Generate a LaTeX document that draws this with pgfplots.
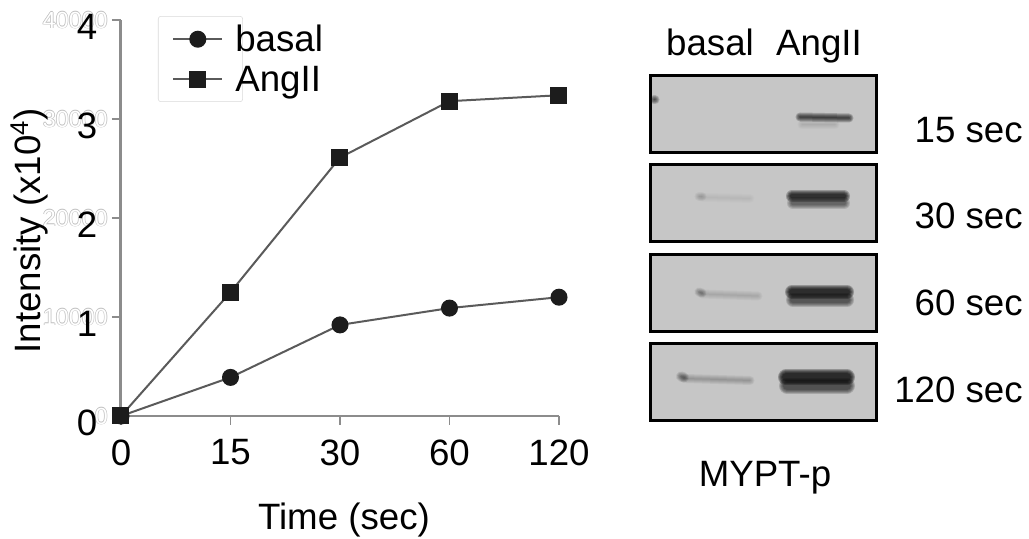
\documentclass[border=0pt]{standalone}
\usepackage{fontspec}
\setmainfont{Liberation Sans}
\usepackage{pgfplots}
\pgfplotsset{compat=1.18}

\newcommand{\px}{0.75pt}
\newcommand{\bigfont}{\fontsize{27.5}{30}\selectfont}
\definecolor{axisgray}{HTML}{8C8C8C}
\definecolor{linegray}{HTML}{5A5A5A}
\definecolor{markblack}{HTML}{1C1C1C}
\definecolor{blotgray}{HTML}{C6C6C6}

% outlined digits left over behind the y tick labels
\newcommand{\ghost}[1]{%
  \rlap{\raisebox{.5pt}{\textcolor{black!25}{#1}}}%
  \rlap{\raisebox{-.5pt}{\textcolor{black!25}{#1}}}%
  \rlap{\hspace{.5pt}\textcolor{black!25}{#1}}%
  \rlap{\hspace{-.5pt}\textcolor{black!25}{#1}}%
  \textcolor{white}{#1}}

% one blurred band: core width, darkness, coordinates
\newcommand{\band}[3]{%
  \addplot[black,opacity=.2*#2,line cap=round,line width={(#1+8)*\px}] coordinates {#3};
  \addplot[black,opacity=.2*#2,line cap=round,line width={(#1+6)*\px}] coordinates {#3};
  \addplot[black,opacity=.2*#2,line cap=round,line width={(#1+4)*\px}] coordinates {#3};
  \addplot[black,opacity=.2*#2,line cap=round,line width={(#1+2)*\px}] coordinates {#3};
  \addplot[black,opacity=.2*#2,line cap=round,line width={#1*\px}] coordinates {#3};
}

\pgfplotsset{
  blot/.style={
    anchor=south west, scale only axis,
    width=226*\px, height=77*\px,
    xmin=650, xmax=876, y dir=reverse,
    ticks=none, axis on top,
    axis line style={black,line width=3*\px},
    axis background/.style={fill=blotgray},
  },
}

\begin{document}
\begin{tikzpicture}
\path[use as bounding box] (0,0) rectangle (1029*\px,539*\px);

\foreach \yy/\lab in {20/40000,119/30000,218/20000,317/10000,416/0}
  \node[anchor=east,inner sep=0pt,font=\fontsize{17.5}{20}\selectfont]
    at (108*\px,{(539-\yy)*\px}) {\ghost{\lab}};

\begin{axis}[
  at={(121*\px,123*\px)}, anchor=origin, scale only axis,
  width=438*\px, height=396*\px,
  xmin=0, xmax=4, ymin=0, ymax=4,
  clip=false,
  axis lines=left,
  axis line style={-},
  x axis line style={axisgray,line width=2*\px},
  y axis line style={axisgray,line width=3*\px},
  tick align=outside,
  major tick length=9*\px,
  tick style={axisgray,line width=1.2*\px},
  xtick={0,1,2,3,4},
  xticklabels={0,15,30,60,120},
  ytick={0,1,2,3,4},
  tick label style={font=\bigfont},
  /pgf/number format/assume math mode=true,
  x tick label style={yshift=-10*\px},
  y tick label style={yshift=-7*\px,xshift=-10*\px},
  xlabel={Time (sec)},
  xlabel style={font=\bigfont,at={(axis description cs:0.509,0)},anchor=center,yshift=-104*\px},
  ylabel={Intensity (x10\textsuperscript{4})},
  ylabel style={font=\bigfont,at={(axis description cs:0,0.468)},anchor=center,yshift=92*\px},
  legend style={
    at={(37/438,400/396)}, anchor=north west,
    draw=black!15, rounded corners=2pt, fill=none,
    inner xsep=14*\px, inner ysep=6*\px,
    row sep=7*\px, font=\bigfont,
  },
  legend cell align=left,
  legend image code/.code={
    \draw[mark repeat=2,mark phase=2,#1]
      plot coordinates {(0pt,0pt)(18.4pt,0pt)(36.8pt,0pt)};
  },
]
\addplot[linegray,line width=2*\px,mark=*,mark size=7.5*\px,
  mark options={fill=markblack,draw=markblack,solid}]
  coordinates {(0,0) (1,0.39) (2,0.92) (3,1.09) (4,1.20)};
\addlegendentry{\rlap{\hspace{7pt}basal}\hspace{17pt}}
\addplot[linegray,line width=2*\px,mark=square*,mark size=7.5*\px,
  mark options={fill=markblack,draw=markblack,solid}]
  coordinates {(0,0) (1,1.25) (2,2.61) (3,3.18) (4,3.24)};
\addlegendentry{\rlap{\hspace{7pt}AngII}\hspace{17pt}}
\end{axis}

% blot panels, coordinates in picture pixels
\begin{axis}[blot,at={(650*\px,386*\px)},ymin=76,ymax=153]
\band{1}{1}{(800,117) (849,118)}
\band{1}{.12}{(802,125) (835,125)}
\band{1}{.8}{(654,100) (655,100)}
\end{axis}

\begin{axis}[blot,at={(650*\px,297*\px)},ymin=166,ymax=242]
\band{1}{.2}{(699,197) (702,197)}
\band{1}{.06}{(702,198) (750,199)}
\band{4}{1.2}{(792,197) (844,197)}
\band{4}{.6}{(793,204) (844,204)}
\end{axis}

\begin{axis}[blot,at={(650*\px,207*\px)},ymin=255,ymax=332]
\band{1}{.4}{(699,292) (702,293)}
\band{1}{.15}{(702,294) (758,296)}
\band{6}{1.25}{(792,292) (847,292)}
\band{6}{.75}{(793,300) (847,300)}
\end{axis}

\begin{axis}[blot,at={(650*\px,118*\px)},ymin=345,ymax=421]
\band{2}{.5}{(681,377) (684,378)}
\band{1}{.25}{(684,379) (750,381)}
\band{8}{1.3}{(786,378) (847,378)}
\band{8}{.8}{(787,386) (847,386)}
\end{axis}

% text around the blots
\node[font=\bigfont,anchor=base] at (710*\px,{(539-56)*\px}) {basal};
\node[font=\bigfont,anchor=base] at (819*\px,{(539-56)*\px}) {AngII};
\node[font=\bigfont,anchor=east,inner sep=0pt] at (1023*\px,{(539-130)*\px}) {15 sec};
\node[font=\bigfont,anchor=east,inner sep=0pt] at (1023*\px,{(539-216)*\px}) {30 sec};
\node[font=\bigfont,anchor=east,inner sep=0pt] at (1023*\px,{(539-303)*\px}) {60 sec};
\node[font=\bigfont,anchor=east,inner sep=0pt] at (1023*\px,{(539-390)*\px}) {120 sec};
\node[font=\bigfont] at (765*\px,{(539-478)*\px}) {MYPT-p};
\end{tikzpicture}
\end{document}
